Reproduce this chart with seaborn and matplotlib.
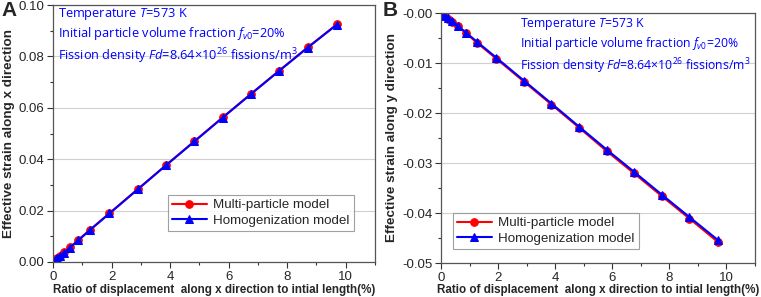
import matplotlib
matplotlib.use("Agg")
import matplotlib.pyplot as plt
import seaborn as sns
import numpy as np
from matplotlib.ticker import MultipleLocator, FormatStrFormatter

sns.set_style("white")
plt.rcParams['font.family'] = ['Liberation Sans', 'DejaVu Sans']
plt.rcParams['mathtext.fontset'] = 'custom'
plt.rcParams['mathtext.rm'] = 'Open Sans'
plt.rcParams['mathtext.it'] = 'Open Sans:italic'
plt.rcParams['axes.unicode_minus'] = False

ratio = [0, 0.05, 0.1, 0.15, 0.25, 0.38, 0.58, 0.87, 1.27, 1.93, 2.9, 3.87, 4.83, 5.8, 6.77, 7.73, 8.7, 9.7]
strain_x_multi = [0, 0.0005, 0.001, 0.0015, 0.0025, 0.0037, 0.0057, 0.0086, 0.0126, 0.019, 0.0284, 0.0378,
                  0.047, 0.0563, 0.0655, 0.0745, 0.0835, 0.0925]
strain_x_homo = [0, 0.0005, 0.001, 0.0015, 0.0024, 0.0036, 0.0056, 0.0085, 0.0125, 0.0189, 0.0283, 0.0377,
                 0.0469, 0.0562, 0.0654, 0.0744, 0.0834, 0.0924]
strain_y_multi = [0, -0.0002, -0.0004, -0.0006, -0.0011, -0.0017, -0.0026, -0.004, -0.006, -0.0091, -0.0137,
                  -0.0183, -0.0229, -0.0276, -0.0321, -0.0366, -0.0411, -0.0458]
strain_y_homo = [0, -0.0002, -0.0004, -0.0006, -0.001, -0.0016, -0.0025, -0.0039, -0.0058, -0.0089, -0.0135,
                 -0.0181, -0.0227, -0.0273, -0.0318, -0.0363, -0.0408, -0.0454]

labels = ["Multi-particle model", "Homogenization model"]
xlabel = "Ratio of displacement  along x direction to intial length(%)"

fig = plt.figure(figsize=(7.61, 2.97), dpi=100)
axA = fig.add_axes([53/761, 1-262/297, (375-53)/761, (262-5)/297])
axB = fig.add_axes([441/761, 1-263/297, (755-441)/761, (263-13)/297])

ann = ("Temperature $T$=573 K\n"
       "Initial particle volume fraction $f_{v0}$=20%\n"
       "Fission density $Fd$=8.64×10$^{26}$ fissions/m$^{3}$")

def style(ax, ylim, ymaj, ymin_, ylabel, bottom_px, height_px):
    ax.set_xlim(0, 11)
    ax.set_ylim(*ylim)
    ax.xaxis.set_major_locator(MultipleLocator(2))
    ax.xaxis.set_minor_locator(MultipleLocator(1))
    ax.yaxis.set_major_locator(MultipleLocator(ymaj))
    ax.yaxis.set_minor_locator(MultipleLocator(ymin_))
    ax.yaxis.set_major_formatter(FormatStrFormatter('%.2f'))
    ax.tick_params(axis='both', which='major', direction='out', length=4, width=0.8,
                   labelsize=9.5, color='#333333', bottom=True, left=True, pad=2)
    ax.tick_params(axis='x', which='major', pad=2.5)
    ax.tick_params(axis='both', which='minor', direction='out', length=2.5, width=0.8,
                   color='#333333', bottom=True, left=True)
    ax.yaxis.grid(True, color='#d0d0d0', linewidth=0.8)
    ax.set_axisbelow(True)
    for s in ax.spines.values():
        s.set_color('#555555')
        s.set_linewidth(0.9)
    ax.set_xlabel(xlabel, fontsize=8.4, fontweight='bold')
    ax.xaxis.label.set_va('bottom')
    ax.xaxis.set_label_coords(0.5, (bottom_px - 296) / height_px)
    ax.set_ylabel(ylabel, fontsize=9.7, fontweight='bold', labelpad=3)

for ax, ym, yh in [(axA, strain_x_multi, strain_x_homo), (axB, strain_y_multi, strain_y_homo)]:
    sns.lineplot(x=ratio, y=ym, ax=ax, color='red', marker='o', markersize=5.5,
                 markeredgecolor='red', linewidth=1.5, label=labels[0])
    sns.lineplot(x=ratio, y=yh, ax=ax, color='blue', marker='^', markersize=5.5,
                 markeredgecolor='blue', linewidth=1.5, label=labels[1])

style(axA, (0, 0.10), 0.02, 0.01, "Effective strain along x direction", 262, 257)
style(axB, (-0.05, 0.0), 0.01, 0.005, "Effective strain along y direction", 263, 250)

legkw = dict(fontsize=9.6, frameon=True, fancybox=False, edgecolor='#888888',
             handlelength=2.6, borderpad=0.3, labelspacing=0.25, handletextpad=0.5,
             borderaxespad=0)
legA = axA.legend(loc='lower left', bbox_to_anchor=(0.357, 0.12), **legkw)
legB = axB.legend(loc='lower left', bbox_to_anchor=(0.038, 0.056), **legkw)
for leg in (legA, legB):
    leg.get_frame().set_linewidth(0.8)

axA.text(0.015, 0.997, ann, transform=axA.transAxes, ha='left', va='top',
         color='blue', fontsize=9.2, family='Open Sans', linespacing=1.3)
axB.text(0.25, 0.99, ann, transform=axB.transAxes, ha='left', va='top',
         color='blue', fontsize=8.8, family='Open Sans', linespacing=1.3)

fig.text(1/761, 1-1/297, "A", fontsize=15, fontweight='bold', ha='left', va='top')
fig.text(383/761, 1-1/297, "B", fontsize=15, fontweight='bold', ha='left', va='top')

fig.savefig("out.png", dpi=100)
